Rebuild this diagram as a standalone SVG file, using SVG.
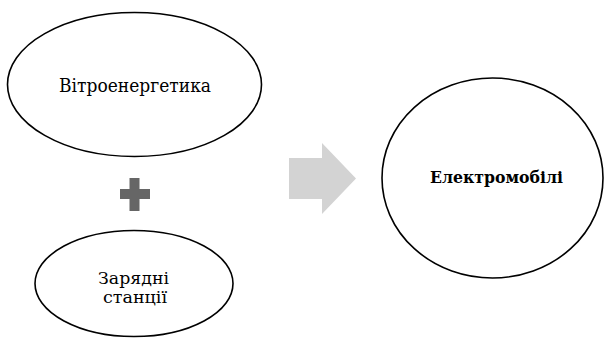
<svg xmlns="http://www.w3.org/2000/svg" width="604" height="342" viewBox="0 0 604 342">
<style>
.node ellipse{fill:#fff;stroke:#000;stroke-width:1.6}
.lbl{fill:#000;text-anchor:middle;font-family:"DejaVu Serif","Liberation Serif",serif;font-size:18px}
.s{font-size:16px}
.b{font-weight:bold;font-size:16px}
</style>
<rect width="604" height="342" fill="#fff"/>
<g id="connectors">
<path id="plus" d="M120 189H129.5V178H139.5V189H150V199H139.5V211H129.5V199H120Z" fill="#666"/>
<path id="arrow" d="M289 158H322V143L356 178.5L322 214V199H289Z" fill="#d3d3d3"/>
</g>
<g id="node-wind" class="node">
<ellipse cx="134.5" cy="84.5" rx="127" ry="72"/>
<text class="lbl" x="135" y="91.5" textLength="152" lengthAdjust="spacingAndGlyphs">Вітроенергетика</text>
</g>
<g id="node-charging" class="node">
<ellipse cx="134" cy="283.5" rx="99" ry="53"/>
<text class="lbl s" x="133.5" y="283.5" textLength="71" lengthAdjust="spacingAndGlyphs">Зарядні</text>
<text class="lbl s" x="135" y="303" textLength="64" lengthAdjust="spacingAndGlyphs">станції</text>
</g>
<g id="node-ev" class="node">
<ellipse cx="492.5" cy="178" rx="110.5" ry="100"/>
<text class="lbl b" x="496.5" y="183" textLength="133" lengthAdjust="spacingAndGlyphs">Електромобілі</text>
</g>
</svg>
